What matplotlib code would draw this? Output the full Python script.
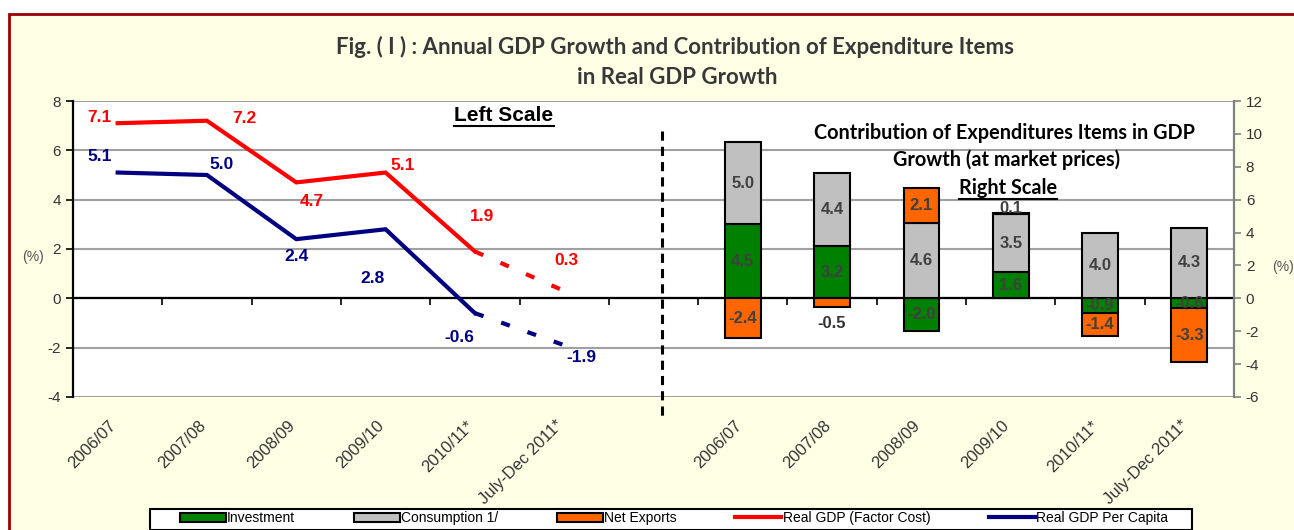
import numpy as np
import matplotlib.pyplot as plt
from matplotlib.patches import Rectangle, Patch
from matplotlib.lines import Line2D
from matplotlib.transforms import IdentityTransform, blended_transform_factory

W, H = 1294, 530

periods = ["2006/07", "2007/08", "2008/09", "2009/10", "2010/11*", "July-Dec 2011*"]
gdp_factor = [7.1, 7.2, 4.7, 5.1, 1.9, 0.3]
gdp_capita = [5.1, 5.0, 2.4, 2.8, -0.6, -1.9]
investment = [4.5, 3.2, -2.0, 1.6, -0.9, -0.6]
consumption = [5.0, 4.4, 4.6, 3.5, 4.0, 4.3]
net_exports = [-2.4, -0.5, 2.1, 0.1, -1.4, -3.3]

# label offsets in pixels (layout only)
red_off = [(-18, 6), (37, 2), (16, -19), (17, 7), (7, 35), (2, 30)]
blue_off = [(-18, 16), (15, 11), (0, -17), (-13, -49), (-16, -24), (17, -12)]

RED = "#FF0000"
NAVY = "#000080"
GREEN = "#008000"
GREY = "#C0C0C0"
ORANGE = "#FF6600"
TXT = "#404040"
BG = "#FFFFE6"

plt.rcParams["font.family"] = ["Liberation Sans", "DejaVu Sans"]
plt.rcParams["axes.unicode_minus"] = False


def px(x, y):
    return x / W, 1 - y / H


fig = plt.figure(figsize=(W / 100, H / 100), dpi=100, facecolor="white")
fig.patches.append(Rectangle(px(9, 14), 1.1, -1.2, transform=fig.transFigure,
                             facecolor=BG, edgecolor="#990000", lw=2, zorder=-10))

x0, y0 = px(73, 397)
x1, y1 = px(1234, 101)
ax = fig.add_axes([x0, y0, x1 - x0, y1 - y0])
ax.set_facecolor("white")
ax2 = ax.twinx()

n_slots = 13
line_x = np.arange(1, 7)
bar_x = np.arange(8, 14)

# left scale: lines
ax.set_xlim(0.5, n_slots + 0.5)
ax.set_ylim(-4, 8)
ax.set_yticks(np.arange(-4, 9, 2))
ax.grid(axis="y", color="#A0A0A0", lw=1.5, zorder=0)
ax.set_axisbelow(True)

for vals, col, offs in [(gdp_factor, RED, red_off), (gdp_capita, NAVY, blue_off)]:
    ax.plot(line_x[:5], vals[:5], color=col, lw=3, solid_joinstyle="miter", zorder=3)
    ax.plot(line_x[4:], vals[4:], color=col, lw=3, ls=(0, (2.2, 4.5)), zorder=3)
    for xv, v, (dx, dy) in zip(line_x, vals, offs):
        ax.annotate(f"{v:.1f}", (xv, v), xytext=(dx, dy), textcoords="offset pixels",
                    ha="center", va="center", color=col, fontsize=12.5, fontweight="bold")

for s in ["top", "right"]:
    ax.spines[s].set_visible(False)
ax.spines["bottom"].set_position(("data", 0))
ax.spines["bottom"].set_linewidth(1.6)
ax.spines["left"].set_linewidth(1.6)
ax.set_xticks(np.arange(1.5, n_slots, 1))
ax.tick_params(axis="x", direction="out", length=5, width=1.2, labelbottom=False)
ax.tick_params(axis="y", direction="out", length=5, width=1.2, labelsize=11, labelcolor="#333333")

# category labels below the plot
tr = blended_transform_factory(ax.transData, ax.transAxes)
for xs in (line_x, bar_x):
    for xv, lab in zip(xs, periods):
        ax.text(xv - 0.1, -0.07, lab, transform=tr, rotation=45, rotation_mode="anchor",
                ha="right", va="top", fontsize=12, color="#333333")

# right scale: stacked bars
ax2.set_ylim(-6, 12)
ax2.set_yticks(np.arange(-6, 13, 2))
for s in ["top", "left", "bottom"]:
    ax2.spines[s].set_visible(False)
ax2.spines["right"].set_color("#808080")
ax2.spines["right"].set_linewidth(1.6)
ax2.tick_params(axis="y", direction="out", length=5, width=1.2, color="#808080",
                labelsize=11, labelcolor="#333333")

pos_base = np.zeros(6)
neg_base = np.zeros(6)
series = [("Investment", investment, GREEN), ("Consumption 1/", consumption, GREY),
          ("Net Exports", net_exports, ORANGE)]
bar_label_off = {("Net Exports", 1): (0, -21, "#333333"), ("Net Exports", 3): (0, 5, TXT)}
for name, vals, col in series:
    vals = np.array(vals)
    bottom = np.where(vals >= 0, pos_base, neg_base)
    ax2.bar(bar_x, vals, bottom=bottom, width=0.4, color=col, edgecolor="black",
            lw=1.5, zorder=3)
    for i, (xv, v, b) in enumerate(zip(bar_x, vals, bottom)):
        dx, dy, tc = bar_label_off.get((name, i), (0, 0, TXT))
        ax2.annotate(f"{v:.1f}", (xv, b + v / 2), xytext=(dx, dy), textcoords="offset pixels",
                     ha="center", va="center", color=tc, fontsize=12, fontweight="bold",
                     zorder=5)
    pos_base = np.where(vals >= 0, pos_base + vals, pos_base)
    neg_base = np.where(vals < 0, neg_base + vals, neg_base)

# divider
ax.plot([7.1, 7.1], [0.9, -0.078], transform=tr, color="black", lw=2.2,
        ls=(0, (3, 2)), clip_on=False, zorder=4)

# texts
TITLE_FONT = ["Lato", "DejaVu Sans"]
fig.text(*px(675, 47), "Fig. ( I ) : Annual GDP Growth and Contribution of Expenditure Items",
         ha="center", va="center", fontsize=16, fontweight="bold", color="#383838", family=TITLE_FONT)
fig.text(*px(677, 77), "in Real GDP Growth", ha="center", va="center", fontsize=16,
         fontweight="bold", color="#383838", family=TITLE_FONT)
fig.text(*px(1005, 133), "Contribution of Expenditures Items in GDP", ha="center", va="center",
         fontsize=14.3, fontweight="bold", color="black", family=TITLE_FONT)
fig.text(*px(1007, 160), "Growth (at market prices)", ha="center", va="center",
         fontsize=14.3, fontweight="bold", color="black", family=TITLE_FONT)
t_right = fig.text(*px(1008, 188), "Right Scale", ha="center", va="center",
                   fontsize=14.3, fontweight="bold", color="black", family=TITLE_FONT)
t_left = fig.text(*px(504, 115), "Left Scale", ha="center", va="center",
                  fontsize=15, fontweight="bold", color="black")
fig.text(*px(33, 257), "(%)", ha="center", va="center", fontsize=10, color="#555555")
fig.text(*px(1283, 267), "(%)", ha="center", va="center", fontsize=10, color="#555555")

# legend: frame drawn separately, entries spread inside it
fig.patches.append(Rectangle(px(150, 530), 1042 / W, 21 / H, transform=fig.transFigure,
                             facecolor="white", edgecolor="black", lw=1.5, zorder=5))
handles = [Patch(facecolor=GREEN, edgecolor="black", lw=1.5),
           Patch(facecolor=GREY, edgecolor="black", lw=1.5),
           Patch(facecolor=ORANGE, edgecolor="black", lw=1.5),
           Line2D([], [], color=RED, lw=3),
           Line2D([], [], color=NAVY, lw=3)]
labels = ["Investment", "Consumption 1/", "Net Exports", "Real GDP (Factor Cost)",
          "Real GDP Per Capita"]
lx0, ly0 = px(180, 518)
lx1, _ = px(1168, 518)
leg = fig.legend(handles, labels, loc="center left", bbox_to_anchor=(lx0, ly0, lx1 - lx0, 0.0),
                 mode="expand", ncol=5, fontsize=10, frameon=False, borderpad=0,
                 handlelength=3.3, handleheight=0.6, handletextpad=0.1, borderaxespad=0)
leg.set_zorder(6)

# underlines
fig.canvas.draw()
rend = fig.canvas.get_renderer()
for t in (t_left, t_right):
    bb = t.get_window_extent(rend)
    fig.add_artist(Line2D([bb.x0, bb.x1], [bb.y0 - 1, bb.y0 - 1], color="black", lw=1.5,
                          transform=IdentityTransform()))

fig.savefig("out.png", dpi=100, facecolor="white")
